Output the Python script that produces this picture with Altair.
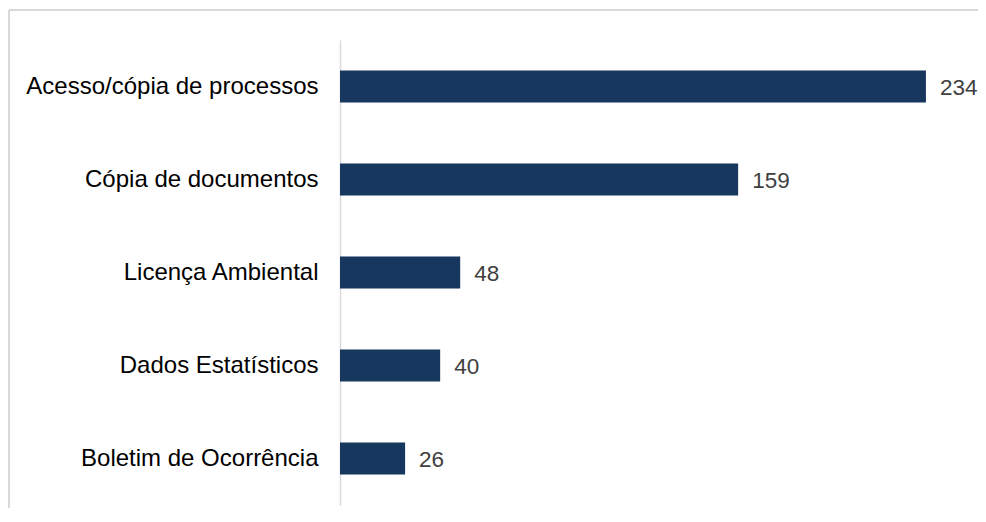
import altair as alt
import pandas as pd

categories = ["Acesso/cópia de processos", "Cópia de documentos", "Licença Ambiental",
              "Dados Estatísticos", "Boletim de Ocorrência"]
values = [234, 159, 48, 40, 26]

df = pd.DataFrame({"cat": categories, "val": values})

W, H = 626, 465
FONT = "Liberation Sans, Arial, sans-serif"

y_enc = alt.Y("cat:N", sort=categories,
              scale=alt.Scale(paddingInner=0, paddingOuter=0),
              axis=alt.Axis(title=None, ticks=False, labelPadding=22, labelFontSize=24,
                            labelColor="#000000", labelFont=FONT, domainColor="#d9d9d9",
                            domainWidth=1.5, labelLimit=400))
x_enc = alt.X("val:Q", scale=alt.Scale(domain=[0, 250]), axis=None)

bars = alt.Chart(df).mark_bar(size=32, color="#17375E").encode(x=x_enc, y=y_enc)
labels = alt.Chart(df).mark_text(align="left", baseline="middle", dx=14, dy=1, fontSize=22.5,
                                 color="#404040", font=FONT).encode(
    x=x_enc, y=alt.Y("cat:N", sort=categories), text="val:Q")

frame_top = alt.Chart(df).mark_rule(color="#d9d9d9", strokeWidth=2).encode(
    x=alt.value(-331), x2=alt.value(W + 40), y=alt.value(-30))
frame_left = alt.Chart(df).mark_rule(color="#d9d9d9", strokeWidth=2).encode(
    x=alt.value(-331), y=alt.value(-30), y2=alt.value(H + 40))

chart = alt.layer(frame_top, frame_left, bars, labels).properties(
    width=W, height=H,
    autosize=alt.AutoSizeParams(type="none"),
    padding={"left": 332, "top": 32, "right": 12, "bottom": 3},
    background="white",
).configure_view(stroke=None)

chart.save("out.html", embed_options={"renderer": "svg", "actions": False})
